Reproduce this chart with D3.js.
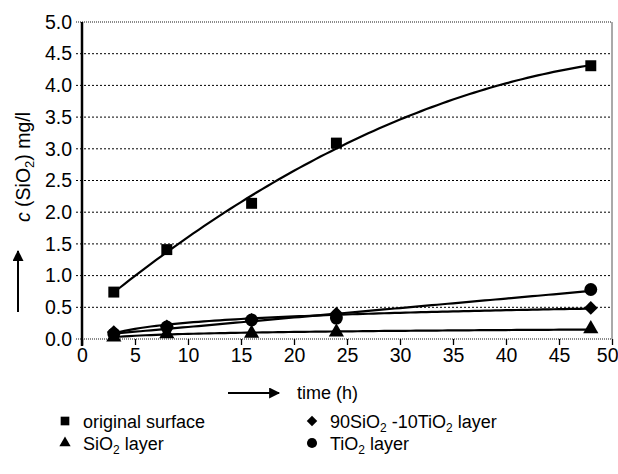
<!DOCTYPE html>
<html><head><meta charset="utf-8">
<script src="https://cdn.jsdelivr.net/npm/d3@7"></script>
<style>body{margin:0;background:#fff}svg{display:block}text{font-family:"Liberation Sans",Arial,sans-serif;fill:#000}</style>
</head><body><svg id="c" width="618" height="474"></svg>
<script>
const times = [3, 8, 16, 24, 48];
const original = [0.74, 1.41, 2.14, 3.09, 4.31];
const sio2 = [0.03, 0.08, 0.09, 0.11, 0.16];
const mixed = [0.11, 0.2, 0.3, 0.4, 0.49];
const tio2 = [0.08, 0.19, 0.3, 0.33, 0.78];
const xTicks = [0,5,10,15,20,25,30,35,40,45,50];
const yTicks = [0,0.5,1,1.5,2,2.5,3,3.5,4,4.5,5];

const svg = d3.select("#c");
const x = d3.scaleLinear().domain([0,50]).range([82,612]);
const y = d3.scaleLinear().domain([0,5]).range([339,22]);
const FF = "Liberation Sans, Arial, sans-serif";

// gridlines (extend a little left of axis like tick marks)
svg.append("g").selectAll("line").data(yTicks).join("line")
  .attr("x1",x(0)-6).attr("x2",x(50)).attr("y1",d=>y(d)).attr("y2",d=>y(d))
  .attr("stroke",d=>(d===5||d===0)?"#666":"#000").attr("stroke-width",d=>(d===5||d===0)?1.3:1)
  .attr("stroke-dasharray",d=>(d===5||d===0)?"1,1":"2,2");
// right border
svg.append("line").attr("x1",x(50)).attr("x2",x(50)).attr("y1",y(5)).attr("y2",y(0)).attr("stroke","#555").attr("stroke-width",1);

// axes
const yAxis = d3.axisLeft(y).tickValues(yTicks).tickFormat(d3.format(".1f")).tickSize(0).tickPadding(10);
const gy = svg.append("g").attr("transform",`translate(${x(0)},0)`).call(yAxis);
gy.select(".domain").attr("stroke-width",2.5).attr("d",`M0,${y(5)}V${y(0)+7}`);
gy.selectAll("text").style("font-size","19.5px").attr("font-family",FF);

const xAxis = d3.axisBottom(x).tickValues(xTicks).tickSize(6).tickPadding(3);
const gx = svg.append("g").attr("transform",`translate(0,${y(0)})`).call(xAxis);
gx.select(".domain").remove();
gx.selectAll("text").style("font-size","19.5px").attr("font-family",FF);
gx.selectAll(".tick").filter(d=>d===50).select("text").attr("text-anchor","end").attr("x",6);
gx.selectAll(".tick line").attr("stroke-width",1.3);

// least-squares trend lines from the data
function fit(xs, ys, basis){
  const m=basis.length, A=[];
  for(let i=0;i<m;i++){A.push(new Array(m+1).fill(0));}
  xs.forEach((t,k)=>{const b=basis.map(f=>f(t));
    for(let i=0;i<m;i++){for(let j=0;j<m;j++)A[i][j]+=b[i]*b[j];A[i][m]+=b[i]*ys[k];}});
  for(let i=0;i<m;i++){for(let j=i+1;j<m;j++){const f=A[j][i]/A[i][i];for(let k=i;k<=m;k++)A[j][k]-=f*A[i][k];}}
  const c=new Array(m).fill(0);
  for(let i=m-1;i>=0;i--){let s=A[i][m];for(let k=i+1;k<m;k++)s-=A[i][k]*c[k];c[i]=s/A[i][i];}
  return t=>basis.reduce((s,f,i)=>s+c[i]*f(t),0);
}
const quad=[t=>1,t=>t,t=>t*t], lin=[t=>1,t=>t], lg=[t=>1,t=>Math.log(t)];
const series = [
  {vals: original, d: d3.symbol(d3.symbolSquare,120)(), rot:0, basis: quad},
  {vals: sio2, d: d3.symbol(d3.symbolTriangle,100)(), rot:0, basis: lg},
  {vals: mixed, d: d3.symbol(d3.symbolSquare,95)(), rot:45, basis: lg},
  {vals: tio2, d: d3.symbol(d3.symbolCircle,130)(), rot:0, basis: lin}
];
const line = d3.line().x(d=>x(d[0])).y(d=>y(d[1]));
series.forEach(s=>{
  const f = fit(times, s.vals, s.basis);
  const pts = d3.range(3, 48.01, 0.5).map(t=>[t,f(t)]);
  svg.append("path").attr("d",line(pts)).attr("fill","none").attr("stroke","#000").attr("stroke-width",2.2);
});
series.forEach(s=>{
  svg.append("g").selectAll("path").data(times.map((t,i)=>[t,s.vals[i]])).join("path")
    .attr("transform",d=>`translate(${x(d[0])},${y(d[1])}) rotate(${s.rot})`)
    .attr("d",s.d).attr("fill","#000");
});

// arrow marker
const defs = svg.append("defs");
defs.append("marker").attr("id","ah").attr("viewBox","0 0 10 10").attr("refX",9).attr("refY",5)
  .attr("markerWidth",12).attr("markerHeight",11).attr("markerUnits","userSpaceOnUse").attr("orient","auto")
  .append("path").attr("d","M0,0L10,5L0,10Z").attr("fill","#000");
// y title
const yt = svg.append("text").attr("transform","translate(30,167) rotate(-90)").attr("text-anchor","middle").style("font-size","19.5px");
yt.append("tspan").attr("font-style","italic").text("c");
yt.append("tspan").text(" (SiO");
yt.append("tspan").attr("dy",4).style("font-size","13px").text("2");
yt.append("tspan").attr("dy",-4).text(") mg/l");
svg.append("line").attr("x1",18).attr("x2",18).attr("y1",312).attr("y2",251).attr("stroke","#000").attr("stroke-width",2).attr("marker-end","url(#ah)");
// x title
svg.append("line").attr("x1",228).attr("x2",279).attr("y1",393).attr("y2",393).attr("stroke","#000").attr("stroke-width",2).attr("marker-end","url(#ah)");
svg.append("text").attr("x",297).attr("y",399).style("font-size","18px").text("time (h)");

// legend
const leg = [
  {d:d3.symbol(d3.symbolSquare,75)(),rot:0,x:65,y:421,label:[["original surface"]]},
  {d:d3.symbol(d3.symbolTriangle,55)(),rot:0,x:65,y:443,label:[["SiO"],["2","sub"],[" layer"]]},
  {d:d3.symbol(d3.symbolSquare,55)(),rot:45,x:312,y:421,label:[["90SiO"],["2","sub"],[" -10TiO"],["2","sub"],[" layer"]]},
  {d:d3.symbol(d3.symbolCircle,80)(),rot:0,x:312,y:443,label:[["TiO"],["2","sub"],[" layer"]]}
];
leg.forEach(l=>{
  svg.append("path").attr("transform",`translate(${l.x},${l.y}) rotate(${l.rot})`).attr("d",l.d).attr("fill","#000");
  const t = svg.append("text").attr("x",l.x+18).attr("y",l.y+7).style("font-size","18px");
  let sub=false;
  l.label.forEach(p=>{
    const ts=t.append("tspan").text(p[0]);
    if(p[1]==="sub"){ts.attr("dy",4).style("font-size","12px");sub=true;}
    else if(sub){ts.attr("dy",-4);sub=false;}
  });
});
</script></body></html>
